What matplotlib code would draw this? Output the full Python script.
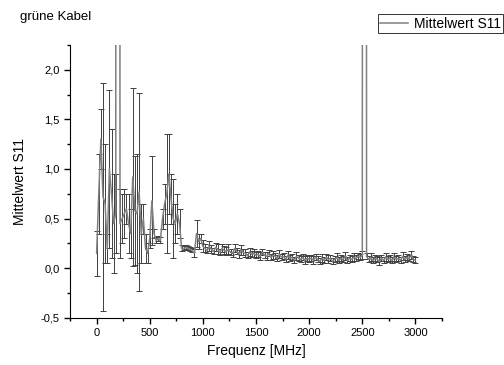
import numpy as np
import matplotlib.pyplot as plt
from matplotlib.lines import Line2D
from matplotlib.ticker import MultipleLocator, FuncFormatter

plt.rcParams['font.family'] = ['Liberation Sans', 'DejaVu Sans']

# frequency grid in MHz (20 MHz steps)
freq = np.arange(0, 3001, 20)

mean_s11 = [
    0.15, 0.75, 1.30, 0.72, 0.65, 0.20, 1.00, 0.75, 0.45, 0.55,
    80.0, 0.45, 0.50, 0.55, 0.60, 0.45, 0.35, 0.92, 0.58, 0.55,
    0.77, 0.35, 0.50, 0.20, 0.15, 0.30, 0.68, 0.35, 0.28, 0.30,
    0.28, 0.50, 0.65, 0.75, 0.95, 0.70, 0.50, 0.45, 0.55, 0.45,
    0.20, 0.20, 0.21, 0.20, 0.19, 0.18, 0.15, 0.35, 0.27, 0.30,
    0.22, 0.20, 0.18, 0.22, 0.19, 0.17, 0.21, 0.19, 0.16, 0.20,
    0.18, 0.17, 0.19, 0.16, 0.15, 0.20, 0.17, 0.14, 0.18, 0.16,
    0.15, 0.13, 0.16, 0.14, 0.15, 0.13, 0.14, 0.12, 0.16, 0.13,
    0.12, 0.15, 0.11, 0.13, 0.12, 0.10, 0.14, 0.11, 0.12, 0.09,
    0.13, 0.10, 0.11, 0.08, 0.12, 0.10, 0.09, 0.11, 0.08, 0.10,
    0.09, 0.10, 0.08, 0.11, 0.09, 0.07, 0.10, 0.08, 0.11, 0.09,
    0.10, 0.07, 0.09, 0.11, 0.08, 0.10, 0.09, 0.12, 0.08, 0.10,
    0.09, 0.11, 0.10, 0.12, 0.11, 0.13, 80.0, 0.12, 0.09, 0.11,
    0.08, 0.10, 0.09, 0.07, 0.10, 0.08, 0.11, 0.09, 0.10, 0.08,
    0.11, 0.09, 0.10, 0.08, 0.12, 0.09, 0.11, 0.10, 0.13, 0.09,
    0.08,
]

err_s11 = [
    0.23, 0.40, 0.30, 1.15, 0.60, 0.15, 0.80, 0.65, 0.50, 0.40,
    0.50, 0.35, 0.25, 0.25, 0.15, 0.30, 0.25, 0.90, 0.55, 0.60,
    1.00, 0.30, 0.15, 0.15, 0.10, 0.10, 0.45, 0.05, 0.03, 0.03,
    0.03, 0.10, 0.20, 0.60, 0.40, 0.25, 0.40, 0.20, 0.20, 0.15,
    0.03, 0.02, 0.02, 0.02, 0.02, 0.02, 0.04, 0.14, 0.08, 0.05,
    0.06, 0.04, 0.03, 0.05, 0.04, 0.03, 0.04, 0.05, 0.03, 0.04,
    0.04, 0.04, 0.05, 0.03, 0.04, 0.04, 0.03, 0.04, 0.05, 0.03,
    0.04, 0.03, 0.04, 0.03, 0.04, 0.03, 0.03, 0.04, 0.03, 0.03,
    0.04, 0.03, 0.03, 0.04, 0.03, 0.03, 0.04, 0.03, 0.03, 0.03,
    0.04, 0.03, 0.03, 0.03, 0.04, 0.03, 0.03, 0.03, 0.04, 0.03,
    0.03, 0.03, 0.04, 0.03, 0.03, 0.03, 0.04, 0.03, 0.03, 0.04,
    0.03, 0.03, 0.03, 0.04, 0.03, 0.03, 0.03, 0.04, 0.03, 0.03,
    0.03, 0.04, 0.03, 0.03, 0.03, 0.04, 0.50, 0.03, 0.03, 0.04,
    0.03, 0.03, 0.03, 0.04, 0.03, 0.03, 0.04, 0.03, 0.03, 0.03,
    0.04, 0.03, 0.03, 0.03, 0.04, 0.03, 0.03, 0.03, 0.04, 0.03,
    0.03,
]

fig = plt.figure(figsize=(5.04, 3.65), dpi=100)
ax = fig.add_axes([0.139, 0.129, 0.738, 0.748])

ax.errorbar(freq, mean_s11, yerr=err_s11, color='#808080', lw=1.1,
            ecolor='#404040', elinewidth=0.7, capsize=2, capthick=0.7)

ax.set_xlim(-250, 3250)
ax.set_ylim(-0.5, 2.25)
ax.xaxis.set_major_locator(MultipleLocator(500))
ax.xaxis.set_minor_locator(MultipleLocator(250))
ax.yaxis.set_major_locator(MultipleLocator(0.5))
ax.yaxis.set_minor_locator(MultipleLocator(0.25))
ax.yaxis.set_major_formatter(FuncFormatter(lambda v, p: f'{v:.1f}'.replace('.', ',')))

for s in ['top', 'right']:
    ax.spines[s].set_visible(False)
ax.tick_params(which='major', direction='out', length=4, width=1, labelsize=8)
ax.tick_params(which='minor', direction='out', length=2.5, width=1)

ax.set_xlabel('Frequenz [MHz]', fontsize=10)
ax.set_ylabel('Mittelwert S11', fontsize=10, labelpad=10)

fig.text(0.04, 0.953, 'grüne Kabel', fontsize=9.5, va='center', ha='left')

handle = Line2D([], [], color='#808080', lw=1.1)
leg = fig.legend([handle], ['Mittelwert S11'], loc='upper right',
                 bbox_to_anchor=(0.999, 0.962), fontsize=10,
                 fancybox=False, edgecolor='black', handlelength=2.0,
                 handletextpad=0.4, borderpad=0.2, borderaxespad=0)
leg.get_frame().set_linewidth(0.7)

fig.savefig('out.png', dpi=100)
